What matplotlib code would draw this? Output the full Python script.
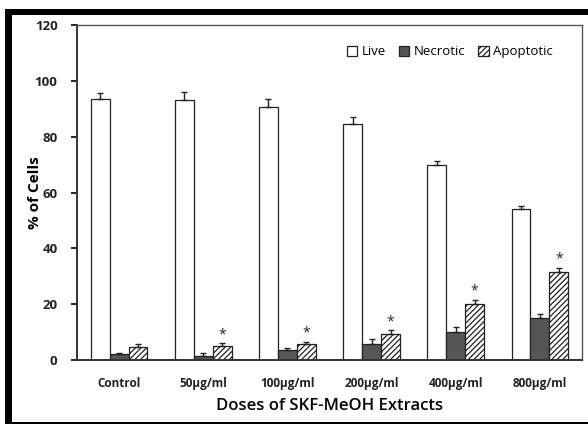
import matplotlib
matplotlib.use("Agg")
import matplotlib.pyplot as plt
import numpy as np
from matplotlib.patches import Rectangle

categories = ["Control", "50µg/ml", "100µg/ml", "200µg/ml", "400µg/ml", "800µg/ml"]
live = [93.5, 93.2, 90.7, 84.6, 70.0, 54.0]
live_err = [2.2, 2.8, 2.8, 2.4, 1.4, 1.2]
necrotic = [2.0, 1.5, 3.5, 5.7, 10.0, 15.0]
necrotic_err = [0.5, 1.0, 0.7, 1.8, 1.8, 1.5]
apoptotic = [4.6, 5.0, 5.7, 9.3, 20.0, 31.5]
apoptotic_err = [1.1, 1.0, 0.8, 1.4, 1.5, 1.5]
significant = [False, True, True, True, True, True]
series_names = ["Live", "Necrotic", "Apoptotic"]
yticks = [0, 20, 40, 60, 80, 100, 120]

plt.rcParams['font.family'] = ['Open Sans', 'DejaVu Sans']
plt.rcParams['hatch.linewidth'] = 0.9

fig = plt.figure(figsize=(5.88, 4.26), dpi=100)
W, H = 588, 426

def fx(px):
    return px / W

def fy(py):
    return 1 - py / H

# outer frame
fig.patches.append(Rectangle((fx(5), fy(15)), fx(583), 6 / H, transform=fig.transFigure,
                             facecolor='black', edgecolor='none'))
fig.patches.append(Rectangle((fx(5), fy(424)), 7 / W, (424 - 9) / H, transform=fig.transFigure,
                             facecolor='black', edgecolor='none'))
fig.patches.append(Rectangle((fx(5), fy(424)), fx(583), 2 / H, transform=fig.transFigure,
                             facecolor='black', edgecolor='none'))

ax = fig.add_axes([fx(77), fy(360), fx(582 - 77), (360 - 25) / H])

x = np.arange(len(categories))
bw = 0.225
kw = dict(edgecolor='#222222', linewidth=0.9)
ekw = dict(elinewidth=1.0, capthick=1.0, ecolor='#222222')

zeros = [0] * len(categories)
b1 = ax.bar(x - bw, live, bw, color='white', yerr=[zeros, live_err], capsize=2.5,
            error_kw=ekw, label=series_names[0], **kw)
b2 = ax.bar(x, necrotic, bw, color='#555555', yerr=[zeros, necrotic_err], capsize=2.5,
            error_kw=ekw, label=series_names[1], **kw)
b3 = ax.bar(x + bw, apoptotic, bw, color='white', hatch='//////', yerr=[zeros, apoptotic_err],
            capsize=2.5, error_kw=ekw, label=series_names[2], **kw)

for i, s in enumerate(significant):
    if s:
        ax.text(x[i] + bw, apoptotic[i] + apoptotic_err[i] + 0.4, "*", ha='center', va='bottom',
                fontsize=10, color='#222222')

ax.set_xlim(-0.5, len(categories) - 0.5)
ax.set_ylim(0, 120)
ax.set_yticks(yticks)
ax.set_yticklabels([str(t) for t in yticks], fontsize=9.5, fontweight='bold', color='#222222')
ax.set_xticks(x)
ax.set_xticklabels(categories, fontsize=8.5, fontweight='bold', color='#222222')
ax.tick_params(axis='x', length=0, pad=12)
ax.tick_params(axis='y', length=4, width=1.2, direction='out', pad=10)

for side in ['top', 'right']:
    ax.spines[side].set_color('#555555')
    ax.spines[side].set_linewidth(1.0)
for side in ['left', 'bottom']:
    ax.spines[side].set_color('#333333')
    ax.spines[side].set_linewidth(1.4)

ax.set_ylabel("% of Cells", fontsize=11, fontweight='bold')
ax.yaxis.set_label_coords(-0.07, 0.5)
ax.set_xlabel("Doses of SKF-MeOH Extracts", fontsize=12, fontweight='semibold', labelpad=6)

leg = ax.legend(loc='upper right', bbox_to_anchor=(0.965, 0.975), ncol=3, frameon=False,
                fontsize=9.5, handlelength=0.8, handleheight=0.8, handletextpad=0.3,
                columnspacing=1.0)

fig.savefig("out.png", dpi=100)
